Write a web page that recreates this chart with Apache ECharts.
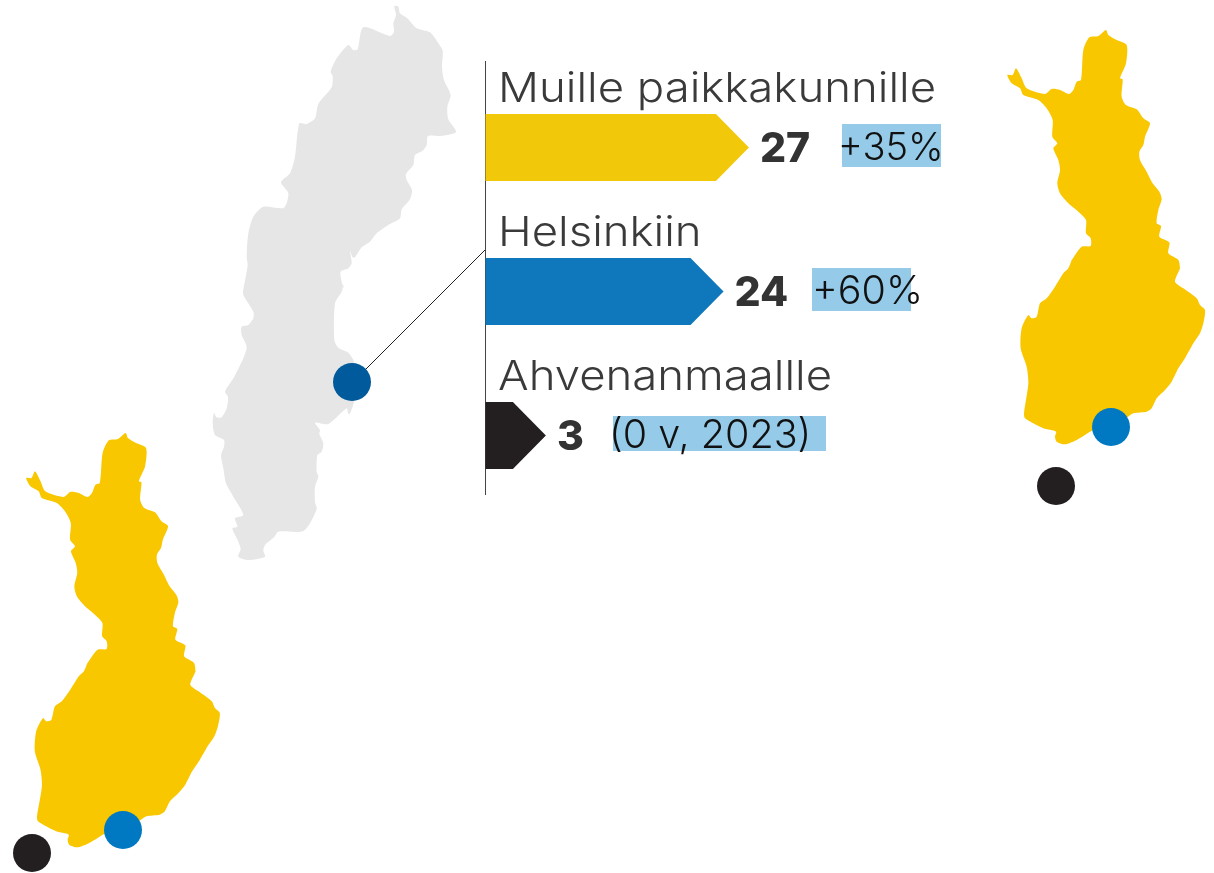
<!DOCTYPE html>
<html>
<head>
<meta charset="utf-8">
<style>html,body{margin:0;padding:0;background:#fff}#chart{width:1214px;height:873px}</style>
<script src="https://cdn.jsdelivr.net/npm/echarts@6/dist/echarts.min.js"></script>
</head>
<body>
<div id="chart"></div>
<script>
// data
const categories = ['Muille paikkakunnille', 'Helsinkiin', 'Ahvenanmaallle'];
const values = [27, 24, 3];
const changes = ['+35%', '+60%', '(0 v, 2023)'];

// outlines, in crop pixels (3x zoom)
const swedenTop = [[583,18],[595,20],[600,40],[622,55],[650,85],[690,97],[712,125],[728,152],[726,200],[732,240],[752,285],[742,320],[745,358],[768,396],[722,408],[684,408],[680,435],[668,452],[645,465],[640,495],[618,522],[620,540],[636,570],[630,598],[605,628],[600,655],[565,675],[530,700],[510,725],[485,742],[465,772],[458,772],[450,752],[455,790],[445,805],[422,815],[425,845],[432,865]];
const swedenBottom = [[430,15],[425,35],[405,70],[403,180],[415,203],[445,218],[460,240],[470,290],[462,365],[450,400],[445,402],[440,385],[385,432],[345,428],[360,450],[358,462],[370,490],[365,515],[352,525],[350,575],[355,590],[345,620],[345,665],[350,688],[312,752],[235,755],[222,772],[195,795],[190,812],[195,830],[145,840],[115,830],[122,808],[115,785],[97,745],[112,740],[105,715],[130,705],[100,650],[78,610],[70,565],[63,525],[72,500],[72,480],[45,465],[38,430],[42,398],[50,412],[65,412],[80,385],[84,350],[75,335],[100,295],[118,260],[130,235],[140,200],[125,165],[125,140],[145,135],[160,115],[160,95],[130,45],[130,25]];
const swedenWest = [[130,868],[143,795],[140,770],[145,700],[160,650],[190,620],[252,623],[265,580],[243,547],[270,520],[285,470],[298,370],[320,372],[345,355],[355,312],[395,262],[398,228],[392,215],[410,175],[445,135],[460,150],[473,148],[490,82],[570,108],[582,95],[580,70],[588,45]];
const finlandTop = [[318,30],[325,45],[350,60],[380,75],[378,130],[360,175],[368,178],[365,230],[378,255],[410,268],[430,295],[450,310],[435,350],[430,375],[418,395],[420,420],[440,455],[458,490],[478,515],[485,537],[475,570],[470,610],[483,618],[478,650],[508,667],[505,700],[535,720],[540,745]];
const finlandBottom = [[538,30],[525,65],[550,85],[590,115],[600,135],[615,150],[610,190],[600,220],[580,250],[555,295],[535,325],[515,365],[495,390],[470,415],[455,445],[440,455],[400,460],[370,480],[280,510],[230,540],[195,553],[170,545],[165,530],[168,515],[130,505],[75,475],[72,460],[85,370],[80,320],[62,265],[65,205],[85,165],[95,175],[110,170],[120,130],[140,115],[165,80],[190,40],[205,25],[215,0]];
const finlandWest = [[215,720],[245,680],[272,678],[272,655],[258,640],[258,600],[235,575],[205,550],[180,520],[172,490],[180,450],[175,420],[160,385],[172,370],[157,350],[158,300],[140,265],[115,240],[70,225],[60,205],[35,190],[22,165],[38,165],[48,145],[65,175],[80,205],[135,222],[155,207],[180,210],[207,222],[220,210],[230,185],[243,180],[250,90],[268,52],[295,48]];

const crop = (pts, ox, oy) => pts.map(p => [ox + p[0] / 3, oy + p[1] / 3]);

const sweden = crop(swedenTop, 200, 0).concat(crop(swedenBottom, 200, 280), crop(swedenWest, 200, 0));
const finland = crop(finlandTop, 1000, 20).concat(crop(finlandBottom, 1000, 260), crop(finlandWest, 1000, 20));
// the lower left copy leans a few pixels to the right at the top
const finland2 = finland.map(p => [p[0] - 987.5 + 6.5 * (445 - p[1]) / 377, p[1] + 403]);

const barColors = ['#F2C80A', '#0F77BC', '#231F20'];
const changeBox = [[842, 99], [812, 99], [613, 213]];
const changeText = [838, 812, 609];
const changeSize = [38, 39.5, 39.5];
const FONT = 'Inter';

const chart = echarts.init(document.getElementById('chart'));

function arrowItem(params, api) {
  const i = api.value(0);
  const start = api.coord([0, i]);
  const end = api.coord([api.value(1), i]);
  const cy = start[1];
  const half = 33.5;
  const shoulder = end[0] + 2;
  const tip = shoulder + 33;
  const boxH = i === 2 ? 35 : 43;
  const children = [{
    type: 'polygon',
    shape: { points: [[start[0], cy - half], [shoulder, cy - half], [tip, cy], [shoulder, cy + half], [start[0], cy + half]] },
    style: { fill: barColors[i] }
  }, {
    type: 'text',
    x: 498,
    y: cy - 58,
    scaleX: 1.11,
    style: { x: 0, y: 0, text: categories[i], fill: '#3a3a3a', font: '300 41px ' + FONT, verticalAlign: 'middle' }
  }, {
    type: 'text',
    style: { x: tip + 11, y: cy + 2, text: String(values[i]), fill: '#333333', font: '800 41px ' + FONT, verticalAlign: 'middle' }
  }, {
    type: 'rect',
    shape: { x: changeBox[i][0], y: cy - 23.5 + (i === 2 ? 4 : 0), width: changeBox[i][1], height: boxH },
    style: { fill: '#95CBE9' }
  }, {
    type: 'text',
    style: { x: changeText[i], y: cy + 1, text: changes[i], fill: '#111111', font: '300 ' + changeSize[i] + 'px ' + FONT, verticalAlign: 'middle' }
  }];
  return { type: 'group', children: children };
}

const outline = (pts, color) => ({
  type: 'custom',
  xAxisIndex: 0,
  yAxisIndex: 0,
  coordinateSystem: 'cartesian2d',
  silent: true,
  data: [0],
  renderItem: (params, api) => ({
    type: 'polygon',
    shape: { points: pts.map(p => api.coord(p)), smooth: 0.25 },
    style: { fill: color }
  })
});

const straight = (pts, color) => ({
  type: 'line',
  xAxisIndex: 0,
  yAxisIndex: 0,
  data: pts,
  showSymbol: false,
  silent: true,
  z: 3,
  lineStyle: { color: color, width: 1 }
});

const option = {
  animation: false,
  grid: [
    { left: 0, top: 0, width: 1214, height: 873 },
    { left: 485.5, top: 75.5, width: 507.6, height: 432 }
  ],
  xAxis: [
    { type: 'value', min: 0, max: 1214, show: false },
    { type: 'value', gridIndex: 1, min: 0, max: 60, show: false }
  ],
  yAxis: [
    { type: 'value', min: 0, max: 873, inverse: true, show: false },
    { type: 'category', gridIndex: 1, inverse: true, data: categories, show: false }
  ],
  series: [
    outline(sweden, '#E6E6E6'),
    outline(finland, '#F9C700'),
    outline(finland2, '#F9C700'),
    straight([[366, 369], [485, 250]], '#222222'),
    straight([[485.5, 61], [485.5, 495]], '#444444'),
    {
      type: 'scatter',
      xAxisIndex: 0,
      yAxisIndex: 0,
      symbolSize: 38,
      silent: true,
      z: 4,
      itemStyle: { opacity: 1 },
      data: [
        { value: [352, 382], itemStyle: { color: '#005A9C' } },
        { value: [1111, 427], itemStyle: { color: '#0079C2' } },
        { value: [1056, 486], itemStyle: { color: '#231F20' } },
        { value: [123, 830], itemStyle: { color: '#0079C2' } },
        { value: [32, 853], itemStyle: { color: '#231F20' } }
      ]
    },
    {
      type: 'custom',
      xAxisIndex: 1,
      yAxisIndex: 1,
      silent: true,
      z: 5,
      data: values.map((v, i) => [i, v]),
      encode: { x: 1, y: 0 },
      renderItem: arrowItem
    }
  ]
};
chart.setOption(option);
</script>
</body>
</html>
